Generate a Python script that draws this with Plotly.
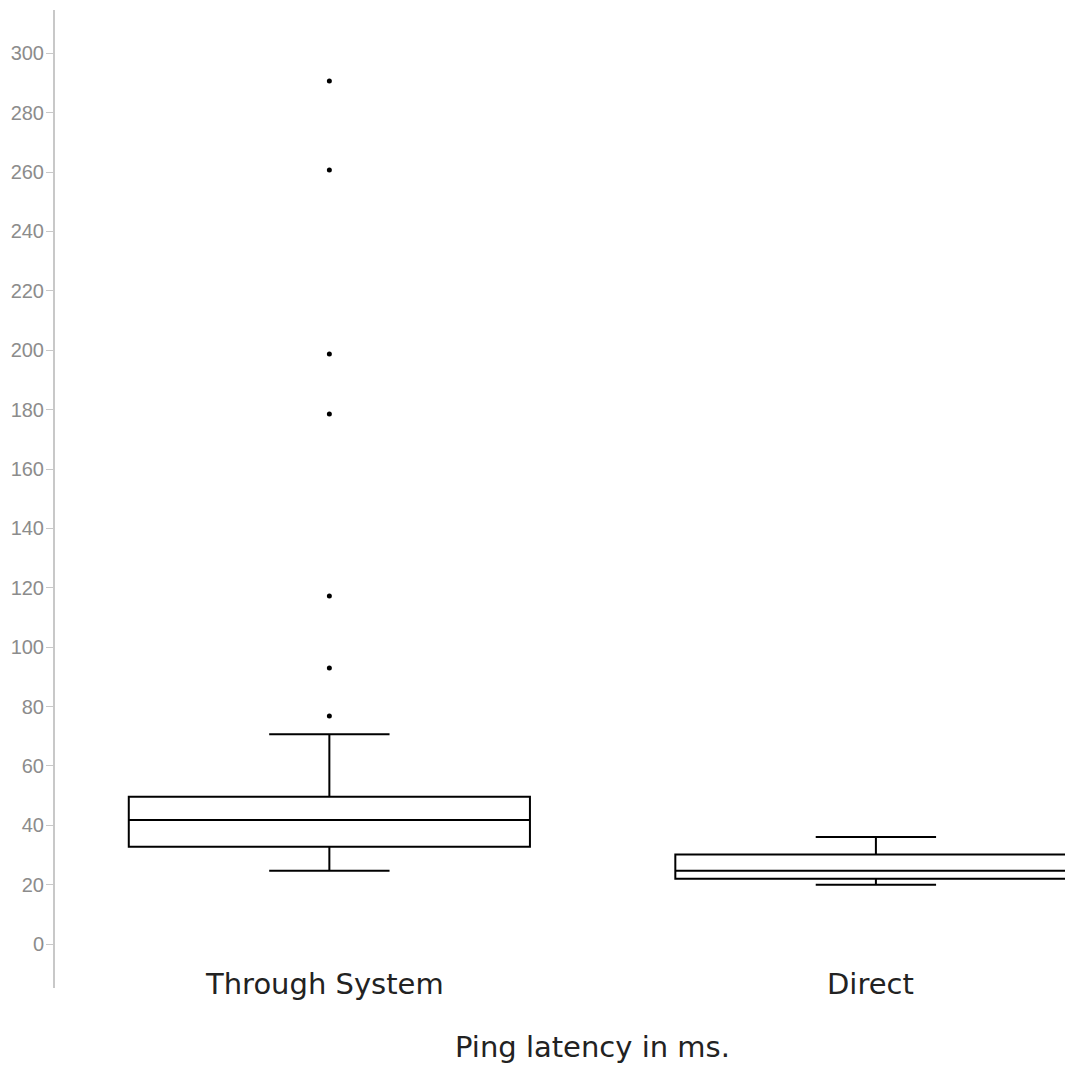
import plotly.graph_objects as go

# ---- data ----
categories = ["Through System", "Direct"]
q1_vals = [32.8, 22.0]
median_vals = [41.8, 24.7]
q3_vals = [49.6, 30.2]
lower_fence = [24.7, 20.0]
upper_fence = [70.7, 36.1]
outliers_through = [290.7, 260.7, 198.7, 178.5, 117.2, 93.0, 76.8]
y_ticks = list(range(0, 301, 20))
x_title = "Ping latency in ms."

fig = go.Figure()

fig.add_trace(go.Box(
    x=categories,
    q1=q1_vals,
    median=median_vals,
    q3=q3_vals,
    lowerfence=lower_fence,
    upperfence=upper_fence,
    boxpoints=False,
    width=0.734,
    whiskerwidth=0.3,
    fillcolor="white",
    line=dict(color="black", width=2),
    showlegend=False,
    hoverinfo="skip",
))

fig.add_trace(go.Scatter(
    x=[categories[0]] * len(outliers_through),
    y=outliers_through,
    mode="markers",
    marker=dict(color="black", size=5),
    showlegend=False,
    hoverinfo="skip",
))

annotations = []
for c in categories:
    annotations.append(dict(
        x=c, xref="x", y=0.004, yref="paper",
        text=c, showarrow=False, xanchor="center", yanchor="middle",
        xshift=-5,
        font=dict(family="DejaVu Sans", size=29, color="#222222"),
    ))
annotations.append(dict(
    x=0.532, xref="paper", y=-0.060, yref="paper",
    text=x_title, showarrow=False, xanchor="center", yanchor="middle",
    font=dict(family="DejaVu Sans", size=29, color="#222222"),
))

fig.update_layout(
    width=1065, height=1065,
    margin=dict(l=55, r=0, t=10, b=77),
    paper_bgcolor="white",
    plot_bgcolor="white",
    showlegend=False,
    annotations=annotations,
    xaxis=dict(
        type="category",
        range=[-0.502, 1.346],
        showline=False, showgrid=False, zeroline=False,
        showticklabels=False, ticks="",
    ),
    yaxis=dict(
        range=[-14.8, 314.6],
        tickvals=y_ticks,
        ticktext=[str(v) for v in y_ticks],
        showline=True, linecolor="#c8c8c8", linewidth=2,
        ticks="outside", ticklen=7, tickcolor="#c8c8c8", tickwidth=1,
        showgrid=False, zeroline=False,
        ticklabelstandoff=-2,
        tickfont=dict(family="Liberation Sans", size=20, color="#8c8c8c"),
    ),
)

fig.write_html(
    "out.html",
    config={"displayModeBar": False},
    post_script="document.body.style.margin='0';document.body.style.overflow='hidden';",
)
